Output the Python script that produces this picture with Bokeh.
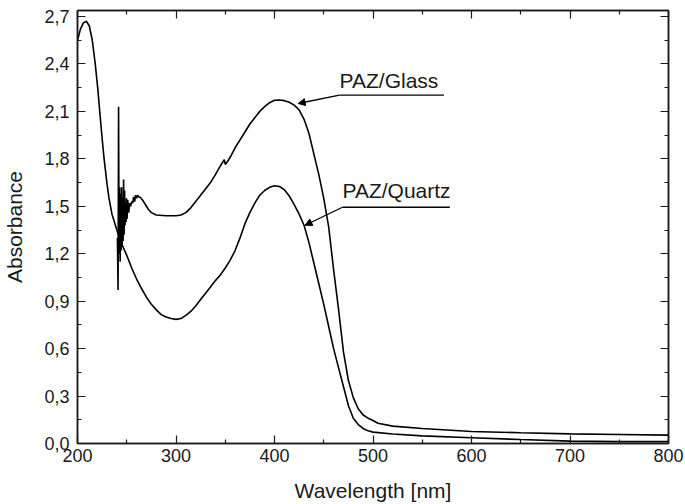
from bokeh.plotting import figure
from bokeh.models import (Range1d, FixedTicker, LinearAxis, CustomJSTickFormatter,
                          Label, Arrow, NormalHead)
from bokeh.embed import file_html
from bokeh.resources import INLINE

# ---------------- data ----------------
quartz_wl = [200, 203, 206, 209, 212, 215, 218, 220.5, 223, 225, 227, 230, 232, 235, 238,
             241, 245, 250, 255, 260, 265, 270, 275, 280, 285, 290, 295, 300, 305, 310,
             315, 320, 325, 330, 335, 340, 345, 350, 355, 360, 365, 370, 375, 380, 385,
             390, 395, 400, 405, 410, 415, 420, 425, 430, 435, 440, 445, 450, 455, 460,
             465, 470, 475, 480, 485, 490, 495, 500, 520, 550, 600, 650, 700, 750, 800]
quartz_abs = [2.55, 2.62, 2.66, 2.67, 2.64, 2.55, 2.40, 2.25, 2.07, 1.93, 1.80, 1.64, 1.55, 1.45, 1.39,
              1.33, 1.26, 1.19, 1.11, 1.04, 0.98, 0.925, 0.88, 0.845, 0.815, 0.80, 0.79, 0.785, 0.79, 0.81,
              0.835, 0.87, 0.91, 0.95, 0.99, 1.03, 1.065, 1.11, 1.16, 1.22, 1.30, 1.39, 1.46, 1.52, 1.57,
              1.60, 1.62, 1.63, 1.625, 1.605, 1.565, 1.51, 1.45, 1.38, 1.27, 1.14, 1.01, 0.88, 0.74, 0.60,
              0.48, 0.36, 0.24, 0.16, 0.12, 0.095, 0.08, 0.072, 0.06, 0.048, 0.036, 0.025, 0.015, 0.012, 0.012]

glass_wl = [240.5, 241.2, 241.7, 242.2, 242.8, 243.3, 243.8, 244.3, 244.8, 245.3, 245.8, 246.3,
            246.8, 247.3, 247.8, 248.3, 248.8, 249.3, 249.8, 250.3, 251, 252, 253,
            254, 255, 256, 257, 258, 259, 260, 261, 262, 264, 266, 268, 270, 272, 275, 280, 290,
            300, 305, 310, 315, 320, 325, 330, 335, 340, 345, 349, 350, 352, 355, 360, 365,
            370, 375, 380, 385, 390, 395, 400, 405, 410, 415, 420, 425, 430, 435, 440, 445,
            450, 455, 460, 465, 470, 475, 480, 485, 490, 495, 500, 505, 520, 550, 600, 650,
            700, 750, 800]
glass_abs = [1.30, 0.97, 2.13, 1.20, 1.62, 1.15, 1.58, 1.22, 1.62, 1.25, 1.55, 1.28,
             1.67, 1.32, 1.60, 1.38, 1.52, 1.40, 1.55, 1.42, 1.54, 1.46, 1.52,
             1.50, 1.53, 1.52, 1.56, 1.53, 1.57, 1.55, 1.57, 1.56, 1.555, 1.54, 1.52, 1.50, 1.48, 1.46, 1.445, 1.44,
             1.44, 1.445, 1.46, 1.49, 1.53, 1.57, 1.61, 1.65, 1.70, 1.755, 1.795, 1.765, 1.78, 1.81, 1.87, 1.92,
             1.97, 2.02, 2.06, 2.10, 2.13, 2.155, 2.17, 2.172, 2.168, 2.158, 2.14, 2.11, 2.05, 1.96, 1.83, 1.70,
             1.55, 1.37, 1.10, 0.85, 0.58, 0.40, 0.29, 0.22, 0.18, 0.16, 0.145, 0.128, 0.11, 0.095, 0.076, 0.068,
             0.061, 0.057, 0.053]

x_ticks = [200, 300, 400, 500, 600, 700, 800]
x_minor = [250, 350, 450, 550, 650, 750]
y_ticks = [0.0, 0.3, 0.6, 0.9, 1.2, 1.5, 1.8, 2.1, 2.4, 2.7]
y_minor = [0.15, 0.45, 0.75, 1.05, 1.35, 1.65, 1.95, 2.25, 2.55]

FONT = "Liberation Sans"

p = figure(width=685, height=504, output_backend="svg", toolbar_location=None,
           x_range=Range1d(200, 800), y_range=Range1d(0, 2.738),
           min_border_left=73, min_border_right=17, min_border_top=10, min_border_bottom=61,
           x_axis_label="Wavelength [nm]", y_axis_label="Absorbance")
p.xgrid.visible = False
p.ygrid.visible = False
p.outline_line_color = "#1a1a1a"
p.outline_line_width = 1.5
p.background_fill_color = "white"
p.border_fill_color = "white"


def style_axis(ax, labels=True):
    ax.axis_line_color = "#1a1a1a"
    ax.axis_line_width = 1.5
    ax.major_tick_in = 8
    ax.major_tick_out = 0
    ax.minor_tick_in = 4
    ax.minor_tick_out = 0
    ax.major_tick_line_width = 1.2
    ax.minor_tick_line_width = 1.2
    ax.major_tick_line_color = "#1a1a1a"
    ax.minor_tick_line_color = "#1a1a1a"
    ax.major_label_text_font = FONT
    ax.major_label_text_font_size = "18px"
    ax.major_label_text_color = "#1a1a1a"
    ax.axis_label_text_font = FONT
    ax.axis_label_text_font_size = "21px"
    ax.axis_label_text_font_style = "normal"
    ax.axis_label_text_color = "#1a1a1a"
    if not labels:
        ax.major_label_standoff = 0


xt = FixedTicker(ticks=x_ticks, minor_ticks=x_minor)
yt = FixedTicker(ticks=y_ticks, minor_ticks=y_minor)

p.xaxis.ticker = xt
p.yaxis.ticker = yt
p.yaxis.formatter = CustomJSTickFormatter(code="return tick.toFixed(1).replace('.', ',');")
style_axis(p.xaxis[0])
style_axis(p.yaxis[0])
p.xaxis.major_label_standoff = 5
p.xaxis.axis_label_standoff = 14
p.yaxis.major_label_standoff = 8
p.yaxis.axis_label_standoff = 15

blank = "return '';"
top = LinearAxis(ticker=FixedTicker(ticks=x_ticks, minor_ticks=x_minor),
                 formatter=CustomJSTickFormatter(code=blank))
right = LinearAxis(ticker=FixedTicker(ticks=y_ticks, minor_ticks=y_minor),
                   formatter=CustomJSTickFormatter(code=blank))
style_axis(top, labels=False)
style_axis(right, labels=False)
p.add_layout(top, "above")
p.add_layout(right, "right")

p.line(quartz_wl, quartz_abs, line_color="black", line_width=1.6)
p.line(glass_wl, glass_abs, line_color="black", line_width=1.6)

# annotations
p.add_layout(Label(x=466, y=2.295, text="PAZ/Glass", text_font=FONT, text_font_size="21px",
                   text_color="#1a1a1a", text_baseline="alphabetic"))
p.line([466, 572], [2.203, 2.203], line_color="black", line_width=1.3)
p.add_layout(Arrow(end=NormalHead(size=7, fill_color="black", line_color="black"),
                   x_start=466, y_start=2.203, x_end=424, y_end=2.15,
                   line_color="black", line_width=1.3))

p.add_layout(Label(x=469, y=1.60, text="PAZ/Quartz", text_font=FONT, text_font_size="21px",
                   text_color="#1a1a1a", text_baseline="alphabetic"))
p.line([469, 578], [1.494, 1.494], line_color="black", line_width=1.3)
p.add_layout(Arrow(end=NormalHead(size=7, fill_color="black", line_color="black"),
                   x_start=469, y_start=1.494, x_end=431, y_end=1.38,
                   line_color="black", line_width=1.3))

open("out.html", "w").write(file_html(p, INLINE))
